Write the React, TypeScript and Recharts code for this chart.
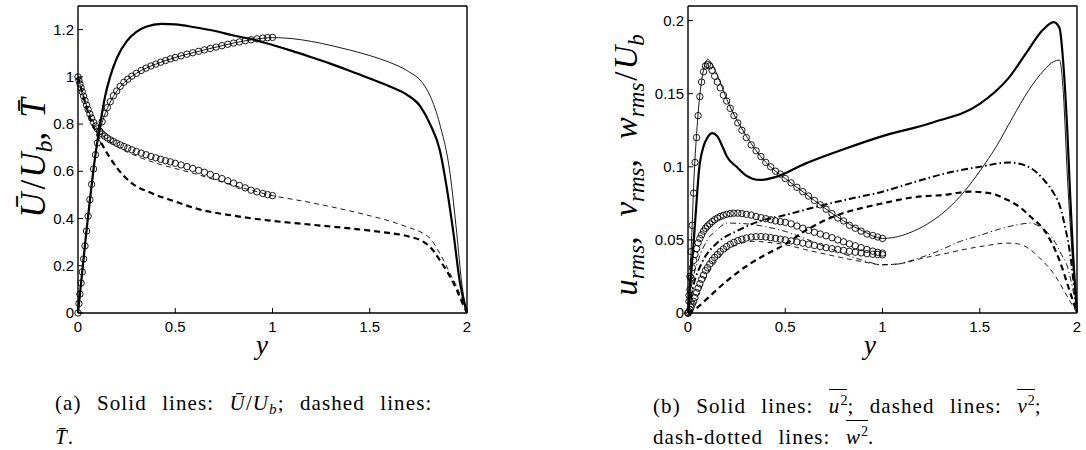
import React from 'react';
import { LineChart, Line, XAxis, YAxis } from 'recharts';

// reference data (circles), half channel, shared wall-normal positions
const refY = [0, 0.005, 0.01, 0.016, 0.022, 0.029, 0.036, 0.044, 0.052, 0.061, 0.07, 0.08, 0.09, 0.1, 0.112, 0.124, 0.137, 0.151, 0.166, 0.182, 0.199, 0.217, 0.236, 0.256, 0.277, 0.3, 0.325, 0.35, 0.375, 0.4, 0.425, 0.45, 0.475, 0.5, 0.53, 0.56, 0.59, 0.62, 0.65, 0.68, 0.71, 0.74, 0.77, 0.8, 0.83, 0.86, 0.89, 0.92, 0.95, 0.975, 1.0];
const refU = [0, 0.04, 0.08, 0.127, 0.174, 0.229, 0.284, 0.347, 0.41, 0.48, 0.545, 0.61, 0.67, 0.72, 0.77, 0.81, 0.845, 0.87, 0.895, 0.92, 0.94, 0.96, 0.977, 0.99, 1.003, 1.015, 1.027, 1.037, 1.046, 1.054, 1.062, 1.069, 1.076, 1.082, 1.089, 1.096, 1.102, 1.108, 1.114, 1.12, 1.126, 1.132, 1.138, 1.143, 1.148, 1.153, 1.157, 1.161, 1.164, 1.166, 1.167];
const refT = [1.0, 0.985, 0.97, 0.953, 0.937, 0.918, 0.9, 0.88, 0.862, 0.843, 0.825, 0.807, 0.792, 0.78, 0.768, 0.758, 0.749, 0.741, 0.733, 0.726, 0.719, 0.712, 0.705, 0.698, 0.691, 0.684, 0.677, 0.67, 0.663, 0.657, 0.651, 0.645, 0.64, 0.634, 0.627, 0.62, 0.612, 0.604, 0.596, 0.587, 0.578, 0.569, 0.56, 0.55, 0.54, 0.53, 0.52, 0.513, 0.506, 0.501, 0.497];
const refUrms = [0, 0.012, 0.025, 0.042, 0.06, 0.082, 0.103, 0.12, 0.135, 0.148, 0.158, 0.165, 0.169, 0.17, 0.169, 0.166, 0.162, 0.158, 0.154, 0.149, 0.145, 0.14, 0.135, 0.13, 0.125, 0.12, 0.115, 0.111, 0.107, 0.103, 0.1, 0.097, 0.095, 0.092, 0.089, 0.086, 0.083, 0.08, 0.077, 0.074, 0.071, 0.068, 0.065, 0.063, 0.06, 0.058, 0.056, 0.054, 0.053, 0.052, 0.051];
const refWrms = [0, 0.008, 0.016, 0.024, 0.031, 0.036, 0.04, 0.044, 0.048, 0.051, 0.0535, 0.056, 0.058, 0.0595, 0.061, 0.0625, 0.0638, 0.065, 0.066, 0.0668, 0.0675, 0.068, 0.0683, 0.0683, 0.068, 0.0675, 0.067, 0.066, 0.0652, 0.0645, 0.0638, 0.063, 0.0625, 0.062, 0.061, 0.0595, 0.058, 0.0565, 0.0552, 0.054, 0.0528, 0.0515, 0.05, 0.0487, 0.0473, 0.046, 0.0447, 0.0435, 0.0423, 0.0415, 0.041];
const refVrms = [0, 0.001, 0.0025, 0.004, 0.006, 0.008, 0.0105, 0.014, 0.017, 0.02, 0.023, 0.026, 0.029, 0.031, 0.0335, 0.036, 0.038, 0.04, 0.042, 0.0438, 0.0455, 0.047, 0.0483, 0.0495, 0.0505, 0.0513, 0.0519, 0.0522, 0.0523, 0.052, 0.0515, 0.051, 0.0505, 0.05, 0.0493, 0.0486, 0.0478, 0.047, 0.0462, 0.0455, 0.0447, 0.044, 0.0434, 0.0428, 0.0422, 0.0416, 0.0411, 0.0406, 0.0402, 0.04, 0.0398];

// panel (a): mean velocity and temperature, full channel
const u1Y = [0, 0.02, 0.04, 0.06, 0.08, 0.1, 0.12, 0.14, 0.165, 0.2, 0.25, 0.3, 0.35, 0.43, 0.5, 0.6, 0.7, 0.8, 0.9, 1.0, 1.1, 1.2, 1.3, 1.4, 1.5, 1.6, 1.69, 1.76, 1.81, 1.86, 1.895, 1.93, 1.964, 2.0];
const u1 = [0, 0.16, 0.32, 0.47, 0.61, 0.73, 0.83, 0.92, 1.0, 1.08, 1.15, 1.19, 1.212, 1.224, 1.222, 1.21, 1.195, 1.175, 1.158, 1.135, 1.11, 1.083, 1.055, 1.025, 0.993, 0.96, 0.925, 0.875, 0.8, 0.69, 0.535, 0.34, 0.127, 0];
const u2Y = [0, 0.02, 0.04, 0.06, 0.08, 0.1, 0.12, 0.15, 0.2, 0.25, 0.3, 0.4, 0.5, 0.6, 0.7, 0.8, 0.9, 1.0, 1.1, 1.2, 1.3, 1.4, 1.5, 1.6, 1.69, 1.775, 1.81, 1.86, 1.913, 1.947, 1.973, 2.0];
const u2 = [0, 0.16, 0.32, 0.47, 0.61, 0.72, 0.795, 0.865, 0.94, 0.985, 1.015, 1.054, 1.082, 1.104, 1.124, 1.143, 1.158, 1.166, 1.162, 1.15, 1.133, 1.113, 1.09, 1.062, 1.027, 0.97, 0.92, 0.8, 0.59, 0.34, 0.127, 0];
const t1Y = [0, 0.03, 0.06, 0.09, 0.12, 0.156, 0.2, 0.267, 0.38, 0.5, 0.6, 0.8, 1.0, 1.2, 1.4, 1.55, 1.69, 1.775, 1.81, 1.86, 1.913, 1.947, 1.973, 2.0];
const t1 = [1.0, 0.91, 0.83, 0.77, 0.72, 0.668, 0.615, 0.556, 0.507, 0.472, 0.444, 0.412, 0.39, 0.374, 0.358, 0.344, 0.326, 0.302, 0.28, 0.224, 0.154, 0.098, 0.048, 0];
const t2Y = [0, 0.05, 0.1, 0.15, 0.2, 0.3, 0.4, 0.5, 0.6, 0.7, 0.8, 0.9, 1.0, 1.1, 1.2, 1.3, 1.4, 1.5, 1.6, 1.69, 1.775, 1.81, 1.86, 1.913, 1.947, 1.973, 2.0];
const t2 = [1.0, 0.865, 0.78, 0.735, 0.705, 0.665, 0.635, 0.612, 0.59, 0.565, 0.54, 0.518, 0.497, 0.482, 0.467, 0.45, 0.432, 0.412, 0.39, 0.365, 0.337, 0.316, 0.253, 0.168, 0.112, 0.062, 0];

// panel (b): rms fluctuations
const urms1Y = [0, 0.015, 0.03, 0.045, 0.057, 0.08, 0.1, 0.125, 0.15, 0.18, 0.2, 0.25, 0.3, 0.37, 0.45, 0.6, 0.8, 1.0, 1.25, 1.5, 1.65, 1.75, 1.82, 1.88, 1.91, 1.93, 1.95, 1.965, 1.98, 2.0];
const urms1 = [0, 0.025, 0.05, 0.078, 0.098, 0.114, 0.12, 0.123, 0.121, 0.113, 0.107, 0.1, 0.094, 0.091, 0.093, 0.102, 0.112, 0.121, 0.13, 0.143, 0.161, 0.18, 0.193, 0.199, 0.195, 0.17, 0.125, 0.08, 0.04, 0];
const urms2Y = [0, 0.01, 0.02, 0.03, 0.045, 0.06, 0.075, 0.09, 0.1, 0.12, 0.15, 0.2, 0.3, 0.4, 0.5, 0.6, 0.7, 0.8, 0.9, 1.0, 1.05, 1.16, 1.25, 1.33, 1.42, 1.5, 1.59, 1.67, 1.75, 1.83, 1.88, 1.91, 1.93, 1.95, 1.97, 2.0];
const urms2 = [0, 0.025, 0.055, 0.09, 0.124, 0.148, 0.163, 0.171, 0.1736, 0.171, 0.163, 0.146, 0.121, 0.103, 0.092, 0.082, 0.072, 0.063, 0.056, 0.051, 0.0515, 0.056, 0.0625, 0.0706, 0.083, 0.097, 0.115, 0.134, 0.152, 0.166, 0.172, 0.173, 0.15, 0.095, 0.05, 0];
const vrms1Y = [0, 0.05, 0.1, 0.2, 0.3, 0.4, 0.5, 0.6, 0.75, 0.9, 1.0, 1.15, 1.33, 1.45, 1.55, 1.64, 1.7, 1.76, 1.84, 1.91, 1.96, 2.0];
const vrms1 = [0, 0.004, 0.01, 0.022, 0.032, 0.04, 0.047, 0.056, 0.066, 0.072, 0.075, 0.079, 0.081, 0.083, 0.082, 0.0775, 0.073, 0.066, 0.055, 0.036, 0.016, 0];
const vrms2Y = [0, 0.05, 0.1, 0.15, 0.2, 0.26, 0.33, 0.4, 0.5, 0.6, 0.75, 0.9, 1.0, 1.1, 1.21, 1.3, 1.42, 1.53, 1.64, 1.7, 1.76, 1.82, 1.88, 1.93, 1.96, 2.0];
const vrms2 = [0, 0.012, 0.026, 0.036, 0.043, 0.047, 0.049, 0.0485, 0.0467, 0.0435, 0.039, 0.035, 0.033, 0.034, 0.0376, 0.04, 0.0435, 0.046, 0.0478, 0.0472, 0.0433, 0.036, 0.027, 0.016, 0.009, 0];
const wrms1Y = [0, 0.03, 0.07, 0.15, 0.25, 0.35, 0.5, 0.67, 0.83, 1.0, 1.15, 1.33, 1.5, 1.65, 1.75, 1.83, 1.88, 1.91, 1.94, 1.964, 1.985, 2.0];
const wrms1 = [0, 0.02, 0.034, 0.048, 0.056, 0.062, 0.067, 0.073, 0.078, 0.083, 0.089, 0.0957, 0.1, 0.103, 0.1, 0.091, 0.082, 0.074, 0.058, 0.041, 0.018, 0];
const wrms2Y = [0, 0.02, 0.05, 0.1, 0.15, 0.2, 0.3, 0.4, 0.5, 0.6, 0.75, 0.9, 1.0, 1.08, 1.16, 1.28, 1.4, 1.5, 1.59, 1.68, 1.76, 1.82, 1.88, 1.92, 1.95, 1.98, 2.0];
const wrms2 = [0, 0.02, 0.035, 0.05, 0.057, 0.0615, 0.061, 0.059, 0.0558, 0.051, 0.043, 0.036, 0.033, 0.0335, 0.0364, 0.042, 0.049, 0.053, 0.057, 0.06, 0.0615, 0.058, 0.05, 0.04, 0.032, 0.015, 0];

const xTicks = [0, 0.5, 1, 1.5, 2];
const leftTicks = [0, 0.2, 0.4, 0.6, 0.8, 1, 1.2];
const rightTicks = [0, 0.05, 0.1, 0.15, 0.2];

type Pt = { x: number; v: number };
const zip = (xs: number[], vs: number[]): Pt[] => xs.map((x, i) => ({ x, v: vs[i] }));

const ink = '#000';
const tickFont = '"Liberation Sans", Arial, sans-serif';
const texFont = '"Liberation Serif", "Times New Roman", Tinos, "Nimbus Roman", "DejaVu Serif", serif';

type Series = { name: string; data: Pt[]; width?: number; dash?: string; circles?: boolean };

// ticks point into the box (matlab style); labels only on bottom/left
const BottomTick = (p: any) => (
  <g>
    <line x1={p.x} y1={p.y} x2={p.x} y2={p.y - 5} stroke={ink} />
    <text x={p.x} y={p.y + 19} textAnchor="middle" fontSize={15} fontFamily={tickFont} fill={ink}>
      {p.payload.value}
    </text>
  </g>
);
const TopTick = (p: any) => <line x1={p.x} y1={p.y} x2={p.x} y2={p.y + 5} stroke={ink} />;
const LeftTick = (p: any) => (
  <g>
    <line x1={p.x} y1={p.y} x2={p.x + 5} y2={p.y} stroke={ink} />
    <text x={p.x - 4} y={p.y + 5} textAnchor="end" fontSize={15} fontFamily={tickFont} fill={ink}>
      {p.payload.value}
    </text>
  </g>
);
const RightTick = (p: any) => <line x1={p.x} y1={p.y} x2={p.x - 5} y2={p.y} stroke={ink} />;

function Panel({ left, margin, yMax, yTicks, series }: {
  left: number;
  margin: { top: number; right: number; bottom: number; left: number };
  yMax: number;
  yTicks: number[];
  series: Series[];
}) {
  const frame = { stroke: ink, strokeWidth: 1.4 };
  return (
    <div style={{ position: 'absolute', left, top: 0 }}>
      <LineChart width={543} height={340} margin={margin}>
        <XAxis xAxisId={0} type="number" dataKey="x" domain={[0, 2]} ticks={xTicks} height={1}
          tickSize={0} tickMargin={0} tickLine={false} axisLine={frame} tick={<BottomTick />} />
        <XAxis xAxisId="top" orientation="top" type="number" domain={[0, 2]} ticks={xTicks} height={1}
          tickSize={0} tickMargin={0} tickLine={false} axisLine={frame} tick={<TopTick />} />
        <YAxis yAxisId={0} type="number" domain={[0, yMax]} ticks={yTicks} width={1}
          tickSize={0} tickMargin={0} tickLine={false} axisLine={frame} tick={<LeftTick />} />
        <YAxis yAxisId="right" orientation="right" type="number" domain={[0, yMax]} ticks={yTicks} width={1}
          tickSize={0} tickMargin={0} tickLine={false} axisLine={frame} tick={<RightTick />} />
        {series.map((s) =>
          s.circles ? (
            <Line key={s.name} data={s.data} dataKey="v" stroke="none" isAnimationActive={false}
              dot={{ r: 3.2, fill: 'none', stroke: ink, strokeWidth: 0.9 }} activeDot={false} />
          ) : (
            <Line key={s.name} data={s.data} dataKey="v" type="monotone" stroke={ink}
              strokeWidth={s.width ?? 1} strokeDasharray={s.dash} dot={false} activeDot={false}
              isAnimationActive={false} />
          )
        )}
      </LineChart>
    </div>
  );
}

const dashThick = '6 4';
const dashThin = '5 4';
const dashDotThick = '7 3 1.5 3';
const dashDotThin = '6 3 1.2 3';

const seriesA: Series[] = [
  { name: 'u1', data: zip(u1Y, u1), width: 2.2 },
  { name: 'u2', data: zip(u2Y, u2), width: 0.9 },
  { name: 't1', data: zip(t1Y, t1), width: 2.2, dash: dashThick },
  { name: 't2', data: zip(t2Y, t2), width: 0.9, dash: dashThin },
  { name: 'refU', data: zip(refY, refU), circles: true },
  { name: 'refT', data: zip(refY, refT), circles: true },
];

const seriesB: Series[] = [
  { name: 'urms1', data: zip(urms1Y, urms1), width: 2.2 },
  { name: 'urms2', data: zip(urms2Y, urms2), width: 0.9 },
  { name: 'vrms1', data: zip(vrms1Y, vrms1), width: 2.2, dash: dashThick },
  { name: 'vrms2', data: zip(vrms2Y, vrms2), width: 0.9, dash: dashThin },
  { name: 'wrms1', data: zip(wrms1Y, wrms1), width: 2, dash: dashDotThick },
  { name: 'wrms2', data: zip(wrms2Y, wrms2), width: 0.9, dash: dashDotThin },
  { name: 'refUrms', data: zip(refY, refUrms), circles: true },
  { name: 'refVrms', data: zip(refY, refVrms), circles: true },
  { name: 'refWrms', data: zip(refY, refWrms), circles: true },
];

const over: React.CSSProperties = {
  display: 'inline-block',
  borderTop: '1.6px solid #000',
  lineHeight: '19px',
  paddingTop: 1,
};
const sup: React.CSSProperties = { fontSize: 14, verticalAlign: 8, letterSpacing: 0 };
const caption: React.CSSProperties = {
  position: 'absolute',
  top: 389,
  fontFamily: texFont,
  fontSize: 21,
  lineHeight: '28px',
  whiteSpace: 'nowrap',
  letterSpacing: 1.1,
  wordSpacing: 9,
  color: ink,
};

export default function App() {
  return (
    <div style={{ position: 'absolute', left: 0, top: 0, width: 1086, height: 450, background: '#fff', overflow: 'hidden' }}>
      <Panel left={0} margin={{ top: 5, left: 77, right: 75, bottom: 26 }} yMax={1.3} yTicks={leftTicks} series={seriesA} />
      <Panel left={543} margin={{ top: 5, left: 144, right: 8, bottom: 26 }} yMax={0.21} yTicks={rightTicks} series={seriesB} />

      <svg width={1086} height={450} style={{ position: 'absolute', left: 0, top: 0, pointerEvents: 'none' }}>
        <g transform="translate(45,158) rotate(-90)">
          <text textAnchor="middle" fontFamily={texFont} fontStyle="italic" fontSize={35} fill={ink}>
            Ū<tspan fontStyle="normal" dx={3}>/</tspan>
            <tspan dx={2}>U</tspan>
            <tspan fontSize={24} dy={7}>b</tspan>
            <tspan dy={-7} fontStyle="normal">,</tspan>
            <tspan dx={14}>T̄</tspan>
          </text>
        </g>
        <g transform="translate(637,165) rotate(-90)">
          <text textAnchor="middle" fontFamily={texFont} fontStyle="italic" fontSize={33} fill={ink}>
            u<tspan fontSize={23} dy={7}>rms</tspan>
            <tspan dy={-7} fontStyle="normal">,</tspan>
            <tspan dx={20}>v</tspan>
            <tspan fontSize={23} dy={7}>rms</tspan>
            <tspan dy={-7} fontStyle="normal">,</tspan>
            <tspan dx={20}>w</tspan>
            <tspan fontSize={23} dy={7}>rms</tspan>
            <tspan dy={-7} fontStyle="normal" dx={2}>/</tspan>
            <tspan dx={2}>U</tspan>
            <tspan fontSize={23} dy={7}>b</tspan>
          </text>
        </g>
        <text x={262} y={354} textAnchor="middle" fontFamily={texFont} fontStyle="italic" fontSize={27} fill={ink}>y</text>
        <text x={870} y={354} textAnchor="middle" fontFamily={texFont} fontStyle="italic" fontSize={27} fill={ink}>y</text>
      </svg>

      <div style={{ ...caption, left: 55 }}>
        (a) Solid lines: <i>Ū</i>/<i>U</i><span style={{ fontSize: 15, verticalAlign: -4, fontStyle: 'italic' }}>b</span>; dashed lines:
        <br />
        <i>T̄</i>.
      </div>
      <div style={{ ...caption, left: 653 }}>
        (b) Solid lines: <span style={over}><i>u</i><span style={sup}>2</span></span>; dashed lines: <span style={over}><i>v</i><span style={sup}>2</span></span>;
        <br />
        dash-dotted lines: <span style={over}><i>w</i><span style={sup}>2</span></span>.
      </div>
    </div>
  );
}
